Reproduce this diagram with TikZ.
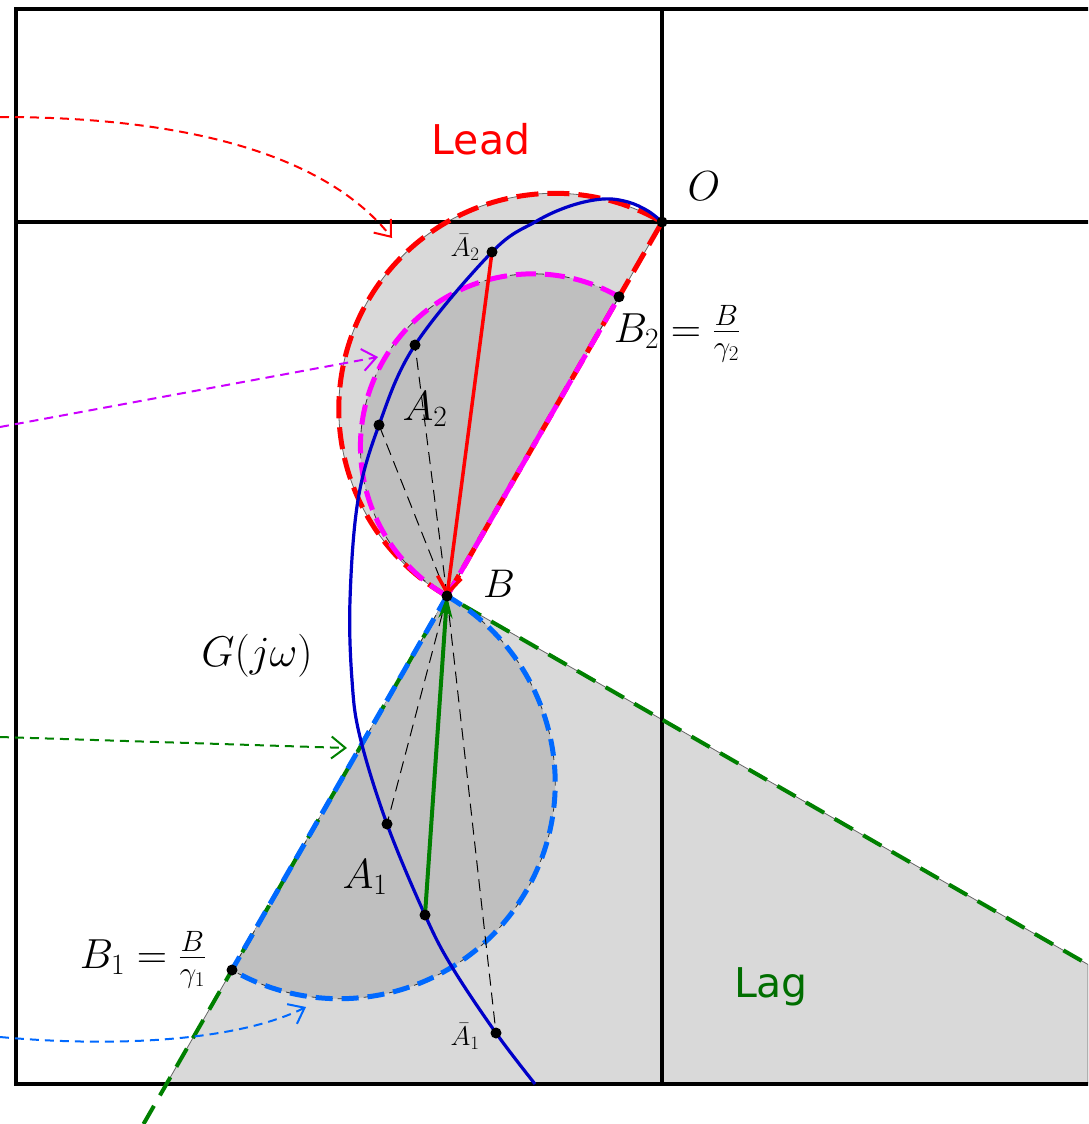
\RequirePackage{fix-cm}
\documentclass[tikz,border=0pt]{standalone}
\usepackage{fontspec}
\newfontfamily\leadfont{DejaVu Sans}
\usetikzlibrary{arrows.meta}

\definecolor{leadred}{RGB}{255,0,0}
\definecolor{mag}{RGB}{255,0,255}
\definecolor{purp}{RGB}{204,0,255}
\definecolor{nyq}{RGB}{0,0,200}
\definecolor{lagblue}{RGB}{0,105,255}
\definecolor{laggreen}{RGB}{0,128,0}
\definecolor{lagtext}{RGB}{0,110,0}
\definecolor{lightg}{RGB}{217,217,217}
\definecolor{darkg}{RGB}{191,191,191}

\begin{document}
\begin{tikzpicture}[x=1pt,y=-1pt,
  framel/.style={line width=4.5pt, line cap=rect},
  vline/.style={line width=3.5pt},
  regionlight/.style={fill=lightg, draw=black!60, line width=0.8pt},
  regiondark/.style={fill=darkg, draw=black!80, line width=0.8pt, dash pattern=on 8pt off 5pt},
  reddash/.style={draw=leadred, line width=5pt, dash pattern=on 22pt off 9pt},
  magdash/.style={draw=mag, line width=5pt, dash pattern=on 20pt off 9pt},
  bluedash/.style={draw=lagblue, line width=5pt, dash pattern=on 17pt off 9pt},
  greendash/.style={draw=laggreen, line width=4pt, dash pattern=on 21pt off 12pt},
  guide/.style={draw=black, line width=1pt, dash pattern=on 12pt off 7pt},
  pointer/.style={line width=2pt, dash pattern=on 9pt off 6pt, -{Straight Barb[length=14pt,width=22pt]}},
  dot/.style={circle, fill=black, inner sep=0pt, minimum size=11pt},
  mlabel/.style={inner sep=0pt, anchor=base, font=\fontsize{42}{50}\selectfont},
  smalllabel/.style={inner sep=0pt, anchor=base, font=\fontsize{27}{32}\selectfont},
  wordlabel/.style={inner sep=0pt, anchor=base, font=\leadfont\fontsize{41}{49}\selectfont},
]
\useasboundingbox (0,0) rectangle (1088,1124);
\clip (0,0) rectangle (1088,1124);

% key points
\coordinate (O) at (662,222);
\coordinate (B) at (447,596);
\coordinate (B2) at (619,296.8);
\coordinate (B1) at (232,970);
\coordinate (Lb) at (167,1083);
\coordinate (Lc) at (1088,1083);
\coordinate (Lr) at (1088,964.5);
\coordinate (Ge) at (143.5,1124);
% points on G(jw)
\coordinate (a2bar) at (492,252);
\coordinate (a2a) at (415,345);
\coordinate (a2b) at (379,425);
\coordinate (a1a) at (387,824);
\coordinate (a1b) at (425,915);
\coordinate (a1bar) at (496,1033);

% regions
\path[regionlight] (B) arc[start angle=119.9, end angle=299.9, radius=215.7] -- cycle;
\path[regiondark] (B) arc[start angle=119.9, end angle=299.9, radius=172.56] -- cycle;
\path[regionlight] (B) -- (Lb) -- (Lc) -- (Lr) -- cycle;
\path[regiondark] (B) arc[start angle=-60.1, end angle=119.9, radius=215.7] -- cycle;

% frame and axes
\draw[framel] (16,9) -- (1088,9);
\draw[framel] (16,9) -- (16,1084) -- (1088,1084);
\draw[framel] (16,222) -- (1088,222);
\draw[vline] (662,9) -- (662,1084);

% dashed region outlines
\draw[reddash] (B) arc[start angle=119.9, end angle=299.9, radius=215.7] -- cycle;
\draw[magdash] (B) arc[start angle=119.9, end angle=299.9, radius=172.56] -- cycle;
\draw[greendash] (Ge) -- (B) -- (Lr);
\draw[bluedash] (B) arc[start angle=-60.1, end angle=119.9, radius=215.7] -- cycle;

% guide lines
\draw[guide] (B) -- (a2a);
\draw[guide] (B) -- (a2b);
\draw[guide] (B) -- (a1a);
\draw[guide] (B) -- (a1bar);

% Nyquist curve
\draw[nyq, line width=3.2pt] plot[smooth, tension=0.6] coordinates {
 (535,1084) (a1bar) (452,967) (a1b) (a1a) (360,737) (352,680) (350,600)
 (358,500) (a2b) (a2a) (a2bar) (535,222) (570,206) (603,199)
 (628,202) (648,211) (O)};

% vectors
\draw[leadred, line width=3.5pt, -{Straight Barb[length=16pt,width=24pt]}] (a2bar) -- (B);
\draw[laggreen, line width=4pt, -{Stealth[length=22pt,width=14pt]}] (a1b) -- (B);

% pointer arrows from the left
\coordinate (rs) at (0,117);
\coordinate (re) at (392,238);
\coordinate (ms) at (0,427);
\coordinate (me) at (378,357);
\coordinate (gs) at (0,737);
\coordinate (ge) at (347,748);
\coordinate (bs) at (0,1037);
\coordinate (be) at (306,1007);
\draw[pointer, leadred] (rs) .. controls (200,117) and (330,160) .. (re);
\draw[pointer, purp] (ms) -- (me);
\draw[pointer, laggreen] (gs) -- (ge);
\draw[pointer, lagblue] (bs) .. controls (120,1048) and (240,1040) .. (be);

% dots
\node[dot] (dO) at (O) {};
\node[dot] (dB) at (B) {};
\node[dot] (dB1) at (B1) {};
\node[dot] (dB2) at (B2) {};
\node[dot] (d1) at (a2bar) {};
\node[dot] (d2) at (a2a) {};
\node[dot] (d3) at (a2b) {};
\node[dot] (d4) at (a1a) {};
\node[dot] (d5) at (a1b) {};
\node[dot] (d6) at (a1bar) {};

% labels
\node[wordlabel, text=leadred] (leadlbl) at (481,154) {Lead};
\node[wordlabel, text=lagtext] (laglbl) at (771,997) {Lag};
\node[mlabel] (olbl) at (704,200) {$O$};
\node[mlabel, font=\fontsize{40}{48}\selectfont] (blbl) at (499,597) {$B$};
\node[mlabel, font=\fontsize{43}{50}\selectfont] (glbl) at (257,666) {$G(j\omega)$};
\node[mlabel] (a2lbl) at (425,420) {$A_2$};
\node[mlabel] (a1lbl) at (365,888) {$A_1$};
\node[smalllabel] (a2barlbl) at (465,256) {$\bar{A}_2$};
\node[smalllabel] (a1barlbl) at (465,1045) {$\bar{A}_1$};
\node[mlabel] (b2lbl) at (677,342) {$B_2=\frac{B}{\gamma_2}$};
\node[mlabel] (b1lbl) at (143,968) {$B_1=\frac{B}{\gamma_1}$};
\end{tikzpicture}
\end{document}
